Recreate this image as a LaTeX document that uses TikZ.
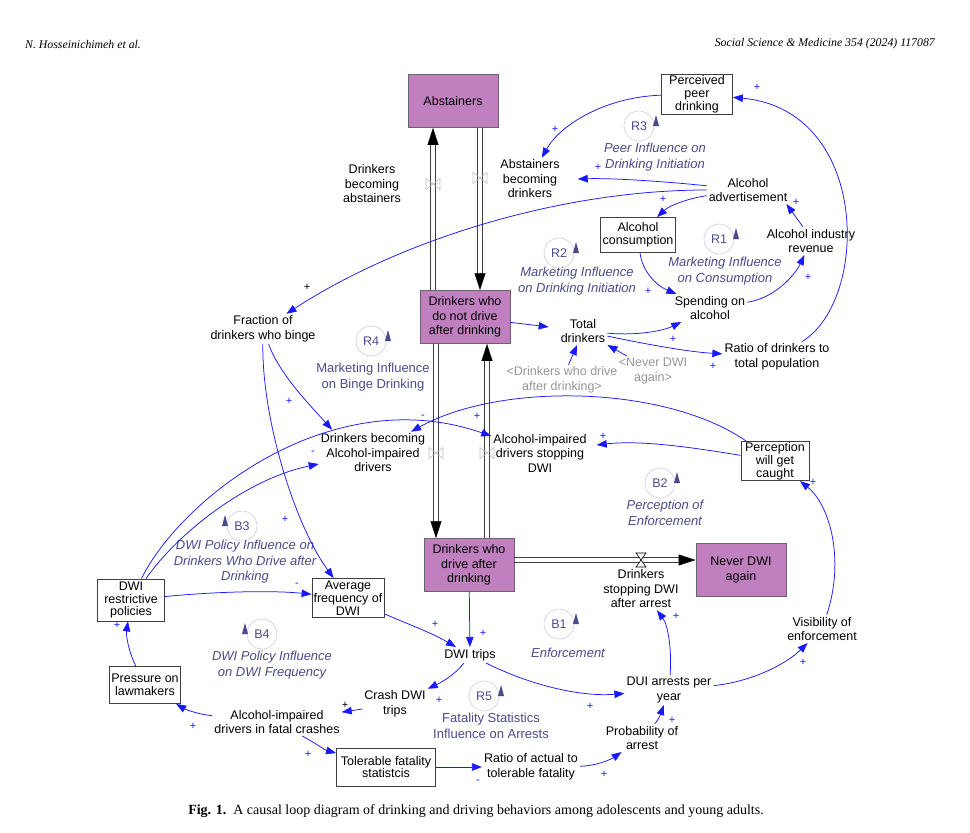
\documentclass[tikz,border=0pt]{standalone}
\usepackage{fontspec}
\setmainfont{Liberation Sans}
\newfontfamily\serifface{Liberation Serif}
\usetikzlibrary{arrows.meta,calc}
\definecolor{stockfill}{RGB}{192,128,192}
\definecolor{cblue}{RGB}{25,25,255}
\definecolor{loopcol}{RGB}{75,75,140}
\definecolor{ringcol}{RGB}{205,205,228}
\definecolor{ghostgray}{RGB}{150,150,150}
\definecolor{valvegray}{RGB}{190,190,190}
\newcommand\lptri[2]{\fill[loopcol] ($(#1)+(#2*17,-11)$) -- ($(#1)+(#2*14,0)$) -- ($(#1)+(#2*20,0)$) -- cycle;}
\newcommand\bowvalve[1]{\draw[valvegray, line width=0.6pt, shift={#1}] (-7,-5.5) -- (7,5.5) -- (7,-5.5) -- (-7,5.5) -- cycle;}
% vertical pipe from #1 to #2 (named coordinates)
\newcommand\vpipe[2]{%
 \draw[pipeedge, shorten >=15pt] ($(#1)+(-2.5,0)$) -- ($(#2)+(-2.5,0)$);
 \draw[pipeedge, shorten >=15pt] ($(#1)+(2.5,0)$) -- ($(#2)+(2.5,0)$);
 \draw[pipetip] ($(#2)!16pt!(#1)$) -- (#2);}
\newcommand\hpipe[2]{%
 \draw[pipeedge, shorten >=15pt] ($(#1)+(0,-2.5)$) -- ($(#2)+(0,-2.5)$);
 \draw[pipeedge, shorten >=15pt] ($(#1)+(0,2.5)$) -- ($(#2)+(0,2.5)$);
 \draw[pipetip] ($(#2)!16pt!(#1)$) -- (#2);}
\begin{document}
\begin{tikzpicture}[x=1pt,y=-1pt,
 txt/.style={align=center, font=\fontsize{12.5}{14.5}\selectfont, inner sep=2pt},
 boxv/.style={draw=black!75, line width=0.8pt, align=center, font=\fontsize{12.5}{12.8}\selectfont, inner sep=1pt},
 stock/.style={draw=black!60, line width=0.9pt, fill=stockfill, align=center, font=\fontsize{12.5}{14.5}\selectfont, minimum width=90pt, minimum height=53pt, inner sep=1pt},
 ghost/.style={txt, text=ghostgray},
 causal/.style={draw=cblue, line width=0.75pt, -{Triangle[length=10pt,width=7.5pt]}},
 sgn/.style={text=cblue, font=\fontsize{11}{11}\selectfont, inner sep=0pt},
 sgnk/.style={sgn, text=black},
 ringnode/.style={circle, draw=ringcol, line width=0.6pt, minimum size=30pt, inner sep=0pt, text=loopcol, font=\fontsize{12.5}{12.5}\selectfont},
 looptxt/.style={align=center, text=loopcol, font=\fontsize{13}{15.5}\selectfont\itshape, inner sep=0pt},
 looptxtup/.style={align=center, text=loopcol, font=\fontsize{13}{15.5}\selectfont, inner sep=0pt},
 pipeedge/.style={draw=black!75, line width=0.8pt},
 pipetip/.style={draw=black, line width=0.4pt, -{Triangle[length=17pt,width=11pt]}}
]
\fill[white] (0,0) rectangle (970,833);
\useasboundingbox (0,0) rectangle (970,833);

% header and caption
\node[anchor=west, inner sep=0pt, font=\serifface\itshape\fontsize{11.8}{13}\selectfont] (hl) at (25,44) {N. Hosseinichimeh et al.};
\node[anchor=east, inner sep=0pt, font=\serifface\itshape\fontsize{11.8}{13}\selectfont] (hr) at (935,44) {Social Science \& Medicine 354 (2024) 117087};
\node[inner sep=0pt, font=\serifface\fontsize{14}{16}\selectfont] (cap) at (476,811) {\textbf{Fig. 1.}\enspace A causal loop diagram of drinking and driving behaviors among adolescents and young adults.};

% stocks
\node[stock] (abst) at (453,101) {Abstainers};
\node[stock] (dnd) at (465,317) {Drinkers who\\do not drive\\after drinking};
\node[stock] (dad) at (469,565) {Drinkers who\\drive after\\drinking};
\node[stock] (never) at (741,570) {Never DWI\\again};

% pipes
\coordinate (pa1) at ($(dnd.north)+(-32,0)$);
\coordinate (pa2) at ($(abst.south)+(-20,0)$);
\coordinate (pb1) at ($(abst.south)+(27,0)$);
\coordinate (pb2) at ($(dnd.north)+(15,0)$);
\coordinate (pc1) at ($(dnd.south)+(-29,0)$);
\coordinate (pc2) at ($(dad.north)+(-33,0)$);
\coordinate (pd1) at ($(dad.north)+(18,0)$);
\coordinate (pd2) at ($(dnd.south)+(22,0)$);
\coordinate (pe1) at ($(dad.east)+(0,-5)$);
\coordinate (pe2) at ($(never.west)+(0,-10)$);
\vpipe{pa1}{pa2}
\vpipe{pb1}{pb2}
\vpipe{pc1}{pc2}
\vpipe{pd1}{pd2}
\hpipe{pe1}{pe2}
\bowvalve{(433,184)}
\bowvalve{(480,178)}
\bowvalve{(436,453)}
\bowvalve{(487,453)}
\draw[black, line width=0.6pt, fill=white, shift={(641,560)}] (-5,-7) -- (5,-7) -- (-5,7) -- (5,7) -- cycle;

% flow labels
\node[txt] (dba) at (372,184) {Drinkers\\becoming\\abstainers};
\node[txt] (abd) at (530,179) {Abstainers\\becoming\\drinkers};
\node[txt] (dbaid) at (373,453) {Drinkers becoming\\Alcohol-impaired\\drivers};
\node[txt] (aids) at (540,453) {Alcohol-impaired\\drivers stopping\\DWI};
\node[txt] (dsa) at (641,589) {Drinkers\\stopping DWI\\after arrest};

% variables
\node[boxv, minimum width=71pt, minimum height=40pt] (peer) at (697,94) {Perceived\\peer\\drinking};
\node[txt] (adv) at (748,190) {Alcohol\\advertisement};
\node[boxv, minimum width=75pt, minimum height=35pt] (cons) at (638,235) {Alcohol\\consumption};
\node[txt] (rev) at (811,241) {Alcohol industry\\revenue};
\node[txt] (spend) at (710,308) {Spending on\\alcohol};
\node[txt] (ratio) at (777,357) {Ratio of drinkers to\\total population};
\node[txt] (total) at (583,331) {Total\\drinkers};
\node[ghost] (gdad) at (562,380) {<Drinkers who drive\\after drinking>};
\node[ghost] (gnever) at (653,371) {<Never DWI\\again>};
\node[txt] (binge) at (263,329) {Fraction of\\drinkers who binge};
\node[boxv, minimum width=68pt, minimum height=38pt] (perc) at (775,461) {Perception\\will get\\caught};
\node[txt] (vis) at (822,629) {Visibility of\\enforcement};
\node[boxv, minimum width=67pt, minimum height=42pt] (pol) at (131,600) {DWI\\restrictive\\policies};
\node[boxv, minimum width=72pt, minimum height=39pt] (avg) at (348,598) {Average\\frequency of\\DWI};
\node[boxv, minimum width=71pt, minimum height=37pt] (press) at (145,685) {Pressure on\\lawmakers};
\node[txt] (trips) at (470,655) {DWI trips};
\node[txt] (crash) at (395,704) {Crash DWI\\trips};
\node[txt] (fatal) at (277,722) {Alcohol-impaired\\drivers in fatal crashes};
\node[boxv, minimum width=99pt, minimum height=38pt] (tol) at (386,767) {Tolerable fatality\\statistcis};
\node[txt] (ratact) at (531,767) {Ratio of actual to\\tolerable fatality};
\node[txt] (prob) at (642,738) {Probability of\\arrest};
\node[txt] (dui) at (669,690) {DUI arrests per\\year};

% loops
\node[ringnode] (R3) at (639,126) {R3}; \lptri{R3}{1}
\node[looptxt] (R3t) at (655,157) {Peer Influence on\\Drinking Initiation};
\node[ringnode] (R2) at (559,253) {R2}; \lptri{R2}{1}
\node[looptxt] (R2t) at (577,281) {Marketing Influence\\on Drinking Initiation};
\node[ringnode] (R1) at (719,239) {R1}; \lptri{R1}{1}
\node[looptxt] (R1t) at (725,271) {Marketing Influence\\on Consumption};
\node[ringnode] (R4) at (371,341) {R4}; \lptri{R4}{1}
\node[looptxtup] (R4t) at (373,377) {Marketing Influence\\on Binge Drinking};
\node[ringnode] (B2) at (660,483) {B2}; \lptri{B2}{1}
\node[looptxt] (B2t) at (665,513) {Perception of\\Enforcement};
\node[ringnode] (B3) at (242,526) {B3}; \lptri{B3}{-1}
\node[looptxt] (B3t) at (245,562) {DWI Policy Influence on\\Drinkers Who Drive after\\Drinking};
\node[ringnode] (B4) at (262,634) {B4}; \lptri{B4}{-1}
\node[looptxt] (B4t) at (272,665) {DWI Policy Influence\\on DWI Frequency};
\node[ringnode] (B1) at (559,624) {B1}; \lptri{B1}{1}
\node[looptxt] (B1t) at (568,653) {Enforcement};
\node[ringnode] (R5) at (484,696) {R5}; \lptri{R5}{1}
\node[looptxtup] (R5t) at (491,726) {Fatality Statistics\\Influence on Arrests};

% causal links
\draw[causal] (peer) .. controls (605,97) and (560,125) .. (abd);
\draw[causal] (adv) .. controls (660,181) and (610,178) .. ($(abd.east)+(16,0)$);
\draw[causal] (adv) .. controls (560,190) and (400,240) .. (binge);
\draw[causal] (adv) .. controls (690,198) and (670,205) .. (cons);
\draw[causal] ($(rev.north)+(-8,0)$) -- ($(adv.south east)+(-3,0)$);
\draw[causal] (spend) .. controls (775,298) and (795,275) .. (rev);
\draw[causal] (cons) .. controls (642,270) and (655,285) .. (spend);
\draw[causal] (total) .. controls (640,336) and (665,330) .. (spend);
\draw[causal] (total) .. controls (650,345) and (690,352) .. (ratio);
\draw[causal] (ratio) .. controls (870,300) and (870,110) .. (peer);
\draw[causal, shorten >=10pt] (dnd) -- (total);
\draw[causal] (gdad) -- (total);
\draw[causal] (gnever) -- (total);
\draw[causal] (binge) .. controls (280,375) and (310,405) .. ($(dbaid.north)+(-41,-2)$);
\draw[causal] (binge) .. controls (262,420) and (295,525) .. (avg);
\draw[causal] (perc) .. controls (665,385) and (500,382) .. (dbaid);
\draw[causal] (pol) .. controls (180,500) and (330,380) .. (aids);
\draw[causal] (pol) .. controls (180,530) and (250,478) .. (dbaid);
\draw[causal] (perc) .. controls (690,447) and (640,440) .. ($(aids.east)+(8,-8)$);
\draw[causal] (pol) .. controls (210,592) and (270,590) .. (avg);
\draw[causal] (press) .. controls (128,650) and (126,635) .. (pol);
\draw[causal] (fatal) .. controls (195,714) and (183,708) .. (press);
\draw[causal] (avg) .. controls (410,625) and (430,632) .. (trips);
\draw[causal] (dad) -- (trips);
\draw[causal] (trips) .. controls (455,675) and (440,683) .. (crash);
\draw[causal] (crash) -- (fatal);
\draw[causal] (fatal) .. controls (315,743) and (325,750) .. (tol);
\draw[causal] (tol) -- (ratact);
\draw[causal] (ratact) .. controls (595,766) and (610,760) .. (prob);
\draw[causal] (prob) .. controls (660,718) and (662,710) .. (dui);
\draw[causal] (trips) .. controls (530,685) and (580,697) .. (dui);
\draw[causal] (dui) .. controls (672,650) and (668,625) .. (dsa);
\draw[causal] (dui) .. controls (750,682) and (785,665) .. (vis);
\draw[causal] (vis) .. controls (845,560) and (830,505) .. (perc);

% polarity signs
\node[sgn] (s1) at (555,129) {+};
\node[sgn] (s2) at (598,167) {+};
\node[sgnk] (s3) at (307,287) {+};
\node[sgn] (s4) at (663,199) {+};
\node[sgn] (s5) at (796,202) {+};
\node[sgn] (s6) at (808,277) {+};
\node[sgn] (s7) at (648,291) {+};
\node[sgn] (s8) at (673,339) {+};
\node[sgn] (s9) at (713,366) {+};
\node[sgn] (s10) at (757,87) {+};
\node[sgn] (s11) at (289,401) {+};
\node[sgn] (s12) at (285,519) {+};
\node[sgn] (s13) at (423,417) {-};
\node[sgn] (s14) at (477,416) {+};
\node[sgn] (s15) at (313,453) {-};
\node[sgn] (s16) at (603,436) {+};
\node[sgn] (s17) at (297,585) {-};
\node[sgn] (s18) at (117,625) {+};
\node[sgn] (s19) at (193,726) {+};
\node[sgn] (s20) at (435,624) {+};
\node[sgn] (s21) at (483,633) {+};
\node[sgn] (s22) at (439,700) {+};
\node[sgnk] (s23) at (345,705) {+};
\node[sgn] (s24) at (308,754) {+};
\node[sgn] (s25) at (478,782) {-};
\node[sgn] (s26) at (604,774) {+};
\node[sgn] (s27) at (672,720) {+};
\node[sgn] (s28) at (590,706) {+};
\node[sgn] (s29) at (676,616) {+};
\node[sgn] (s30) at (803,662) {+};
\node[sgn] (s31) at (813,482) {+};
\end{tikzpicture}
\end{document}
